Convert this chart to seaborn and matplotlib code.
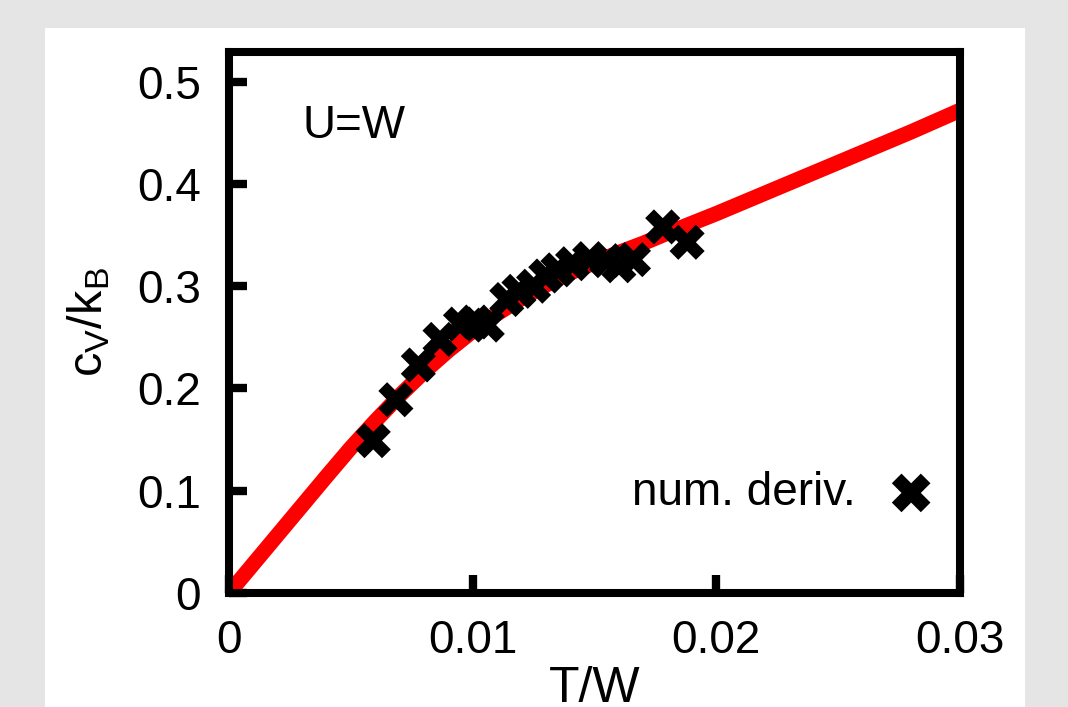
import matplotlib.pyplot as plt
import seaborn as sns
import pandas as pd
from matplotlib.patches import Rectangle

# fitted curve (red)
T_fit = [0.0, 0.002, 0.004, 0.005, 0.006, 0.007, 0.008, 0.009, 0.010, 0.011, 0.012,
         0.013, 0.014, 0.015, 0.016, 0.017, 0.018, 0.020, 0.022, 0.024, 0.026, 0.028, 0.030]
cv_fit = [0.0, 0.057, 0.114, 0.142, 0.168, 0.193, 0.216, 0.237, 0.256, 0.273, 0.288,
          0.301, 0.313, 0.323, 0.333, 0.342, 0.352, 0.371, 0.391, 0.411, 0.431, 0.451, 0.472]

# numerical derivative points
T_num = [0.00592, 0.00685, 0.00777, 0.00866, 0.00950, 0.01010, 0.01060, 0.01140, 0.01190,
         0.01250, 0.01300, 0.01350, 0.01410, 0.01480, 0.01550, 0.01600, 0.01660, 0.01780, 0.01880]
cv_num = [0.149, 0.189, 0.223, 0.248, 0.263, 0.265, 0.262, 0.287, 0.295,
          0.300, 0.310, 0.316, 0.322, 0.327, 0.325, 0.320, 0.326, 0.358, 0.343]

xticks = [0, 0.01, 0.02, 0.03]
xticklabels = ['0', '0.01', '0.02', '0.03']
yticks = [0, 0.1, 0.2, 0.3, 0.4, 0.5]
yticklabels = ['0', '0.1', '0.2', '0.3', '0.4', '0.5']

fit_df = pd.DataFrame({'T': T_fit, 'cv': cv_fit})
num_df = pd.DataFrame({'T': T_num, 'cv': cv_num})

sns.set_style("white")
plt.rcParams['font.family'] = ['Liberation Sans', 'DejaVu Sans']
plt.rcParams['mathtext.fontset'] = 'custom'
plt.rcParams['mathtext.rm'] = 'Liberation Sans'
plt.rcParams['mathtext.it'] = 'Liberation Sans'
plt.rcParams['mathtext.default'] = 'regular'
plt.rcParams['text.color'] = 'black'
plt.rcParams['axes.labelcolor'] = 'black'

fig = plt.figure(figsize=(10.68, 7.07), dpi=100, facecolor='#e5e5e5')
fig.patches.append(Rectangle((45 / 1068, 0), 980 / 1068, 679 / 707, transform=fig.transFigure,
                             facecolor='white', edgecolor='none', zorder=-1))
ax = fig.add_axes([0.2144, 0.1612, 0.6845, 0.7652])
ax.set_facecolor('white')

sns.lineplot(data=fit_df, x='T', y='cv', color='red', lw=11, ax=ax, zorder=2)
sns.scatterplot(data=num_df, x='T', y='cv', marker='X', s=640, color='black',
                edgecolor='none', label='num. deriv.', ax=ax, zorder=3)

ax.set_xlim(0, 0.03)
ax.set_ylim(0, 0.529)
ax.set_xticks(xticks)
ax.set_xticklabels(xticklabels)
ax.set_yticks(yticks)
ax.set_yticklabels(yticklabels)
ax.tick_params(direction='in', length=13, width=6, labelsize=33, colors='black',
               bottom=True, left=True, top=False, right=False)
ax.tick_params(axis='x', pad=19)
ax.tick_params(axis='y', pad=20)
for s in ax.spines.values():
    s.set_linewidth(5.8)
    s.set_color('black')
    s.set_visible(True)

ax.set_xlabel('T/W', fontsize=36, labelpad=2)
ax.set_ylabel(r'$c_V/k_B$', fontsize=35, labelpad=18)

ax.text(0.101, 0.841, 'U=W', transform=ax.transAxes, fontsize=33, va='baseline')

ax.legend(loc='center right', bbox_to_anchor=(0.9645, 0.185), frameon=False,
          markerfirst=False, fontsize=33, handlelength=1.0, handletextpad=0.7,
          borderpad=0, borderaxespad=0, markerscale=1.1)

fig.savefig('out.png', dpi=100, facecolor=fig.get_facecolor())
